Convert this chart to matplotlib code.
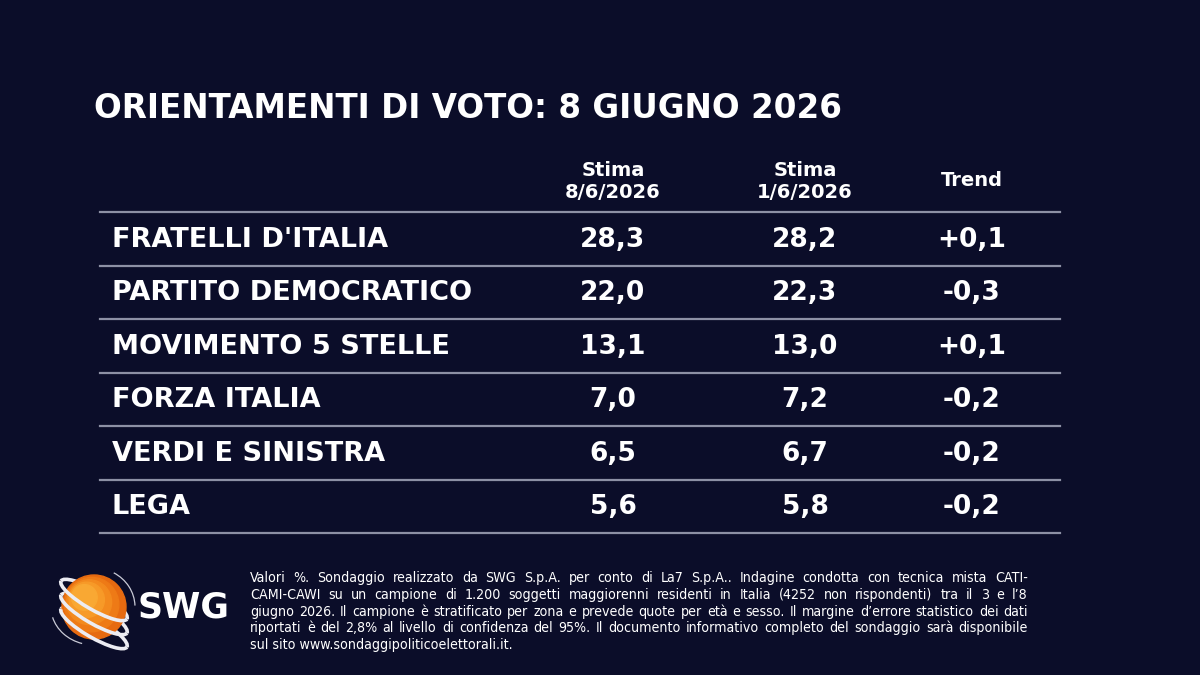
import matplotlib
matplotlib.use("Agg")
import matplotlib.pyplot as plt
from matplotlib import font_manager
from matplotlib.patches import Circle, Arc

# table data
parties = ["FRATELLI D'ITALIA", "PARTITO DEMOCRATICO", "MOVIMENTO 5 STELLE",
           "FORZA ITALIA", "VERDI E SINISTRA", "LEGA"]
stima_new = ["28,3", "22,0", "13,1", "7,0", "6,5", "5,6"]
stima_old = ["28,2", "22,3", "13,0", "7,2", "6,7", "5,8"]
trend = ["+0,1", "-0,3", "+0,1", "-0,2", "-0,2", "-0,2"]
headers = ["Stima\n8/6/2026", "Stima\n1/6/2026", "Trend"]

title = "ORIENTAMENTI DI VOTO: 8 GIUGNO 2026"
note_lines = [
    "Valori %. Sondaggio realizzato da SWG S.p.A. per conto di La7 S.p.A.. Indagine condotta con tecnica mista CATI-",
    "CAMI-CAWI su un campione di 1.200 soggetti maggiorenni residenti in Italia (4252 non rispondenti) tra il 3 e l\u20198",
    "giugno 2026. Il campione \u00e8 stratificato per zona e prevede quote per et\u00e0 e sesso. Il margine d\u2019errore statistico dei dati",
    "riportati \u00e8 del 2,8% al livello di confidenza del 95%. Il documento informativo completo del sondaggio sar\u00e0 disponibile",
    "sul sito www.sondaggipoliticoelettorali.it.",
]

plt.rcParams["font.family"] = "DejaVu Sans"

# condensed face for the footnote if the system has it
has_cond = any(f.name == "DejaVu Sans" and f.stretch == "condensed"
               for f in font_manager.fontManager.ttflist)
STRETCH = "condensed" if has_cond else "normal"

BG = "#0b0d29"
LINE = "#8d90a5"
WHITE = "#ffffff"

fig = plt.figure(figsize=(12, 6.75), dpi=100)
fig.patch.set_facecolor(BG)
ax = fig.add_axes([0, 0, 1, 1])
ax.set_xlim(0, 1200)
ax.set_ylim(675, 0)
ax.axis("off")

ax.text(94, 108, title, color=WHITE, fontsize=23.5, fontweight="bold",
        ha="left", va="center")

# header
col_x = [613, 805, 972]
for x, h in zip(col_x, headers):
    ax.text(x, 181, h, color=WHITE, fontsize=14, fontweight="bold",
            ha="center", va="center", linespacing=1.2)

# rows
row_top = 212
row_h = 53.5
ax.plot([100, 1060], [row_top, row_top], color=LINE, lw=1.6)
for i, name in enumerate(parties):
    yc = row_top + row_h * (i + 0.5)
    ax.text(112, yc + 1, name, color=WHITE, fontsize=19.5, fontweight="bold",
            ha="left", va="center")
    for x, v in zip(col_x, [stima_new[i], stima_old[i], trend[i]]):
        ax.text(x, yc + 1, v, color=WHITE, fontsize=19, fontweight="bold",
                ha="center", va="center")
    yl = row_top + row_h * (i + 1)
    ax.plot([100, 1060], [yl, yl], color=LINE, lw=1.6)

# footnote, justified
renderer = fig.canvas.get_renderer()
x0, x1 = 250, 1028
fs = 10.2
probe = ax.text(0, 0, note_lines[2], fontsize=fs, fontstretch=STRETCH)
wmax = probe.get_window_extent(renderer).width
probe.remove()
if wmax > (x1 - x0) * 0.98:
    fs = fs * (x1 - x0) * 0.98 / wmax
for j, line in enumerate(note_lines):
    y = 578 + 16.8 * j
    if j == len(note_lines) - 1:
        ax.text(x0, y, line, color=WHITE, fontsize=fs, ha="left", va="center",
                fontstretch=STRETCH)
        continue
    words = line.split(" ")
    texts = [ax.text(0, y, w, color=WHITE, fontsize=fs, ha="left", va="center",
                     fontstretch=STRETCH) for w in words]
    widths = [t.get_window_extent(renderer).width for t in texts]
    gap = (x1 - x0 - sum(widths)) / (len(words) - 1)
    x = x0
    for t, w in zip(texts, widths):
        t.set_x(x)
        x += w + gap

# logo
cx, cy, r = 94, 607, 32
shades = ["#e66a10", "#ee7a16", "#f38a1e", "#f79a28", "#f9a833"]
for k, c in enumerate(shades):
    rr = r * (1 - 0.15 * k)
    off = (r - rr) * 0.5
    ax.add_patch(Circle((cx - off, cy - off), rr, color=c, zorder=3))
RING = "#ececf2"
for ry in [600, 614, 628]:
    # back half behind the sphere, front half over it
    ax.add_patch(Arc((cx, ry), 76, 19, angle=30, theta1=180, theta2=360,
                     ec=RING, lw=2.6, zorder=2))
    ax.add_patch(Arc((cx, ry), 76, 19, angle=30, theta1=0, theta2=180,
                     ec=RING, lw=2.6, zorder=4))
ax.add_patch(Arc((cx, cy), 82, 78, theta1=-60, theta2=-2,
                 ec="#c9cad6", lw=0.9, zorder=4))
ax.add_patch(Arc((cx, cy), 86, 76, theta1=108, theta2=166,
                 ec="#c9cad6", lw=0.9, zorder=4))
ax.text(138, 608, "SWG", color=WHITE, fontsize=25, fontweight="bold",
        ha="left", va="center", zorder=5)

fig.savefig("out.png", dpi=100, facecolor=BG)
